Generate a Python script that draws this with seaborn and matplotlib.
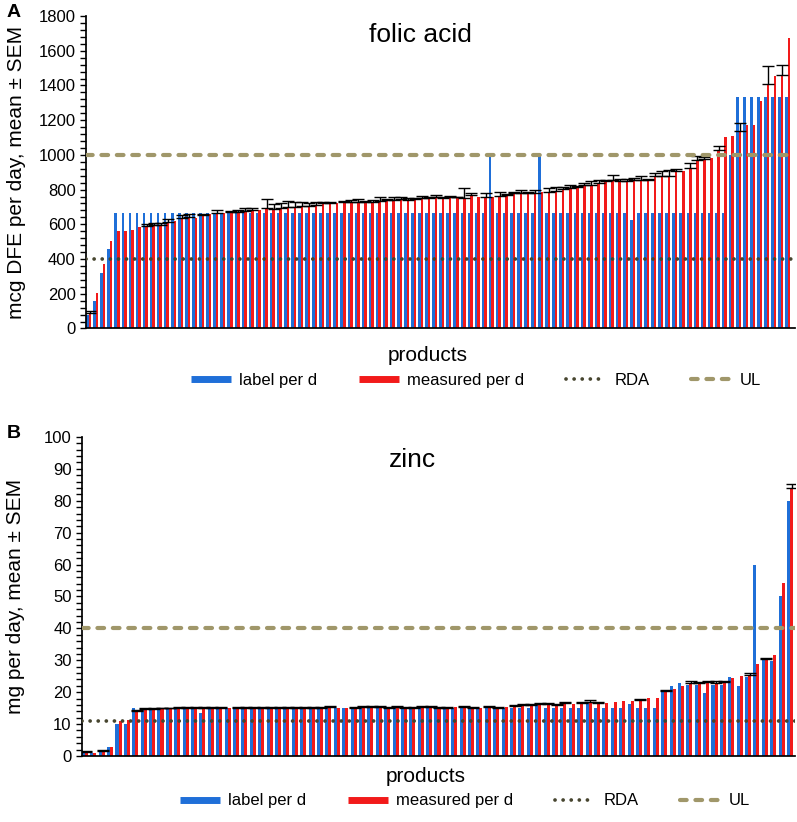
import numpy as np
import pandas as pd
import matplotlib
matplotlib.use('Agg')
import matplotlib.pyplot as plt
from matplotlib.lines import Line2D
from matplotlib.ticker import MultipleLocator
import seaborn as sns

sns.set_theme(style='ticks')
plt.rcParams['font.family'] = ['Liberation Sans', 'DejaVu Sans']
for k in ['text.color', 'axes.labelcolor', 'xtick.color', 'ytick.color', 'axes.edgecolor']:
    plt.rcParams[k] = 'black'

BLUE = '#1f6fd8'
RED = '#f21a1a'
RDA_C = '#47452f'
UL_C = '#a0976a'
SERIES = ['label per d', 'measured per d']

# ---- folic acid, mcg DFE per day (products sorted by measured value) ----
folic_label = ([80, 160, 320, 460] + [667] * 53 + [1000] + [667] * 6 + [1000]
               + [667] * 12 + [626] + [667] * 13 + [1000] + [1333] * 8)
folic_measured = [88, 207, 370, 505, 563, 563, 568, 586, 591, 595,
                  595, 616, 620, 636, 645, 636, 655, 659, 665, 665,
                  669, 671, 678, 681, 684, 693, 690, 692, 697, 697,
                  704, 705, 713, 722, 722, 722, 726, 730, 731, 730,
                  731, 735, 738, 741, 745, 741, 745, 751, 751, 755,
                  751, 755, 755, 751, 770, 755, 760, 757, 765, 770,
                  780, 780, 780, 782, 784, 789, 793, 803, 809, 815,
                  828, 828, 838, 847, 857, 847, 847, 857, 857, 857,
                  876, 880, 880, 910, 905, 924, 968, 976, 982, 1030,
                  1101, 1111, 1136, 1170, 1172, 1310, 1411, 1457, 1461, 1675]
folic_sem = [10, 0, 0, 0, 0, 0, 0, 0, 10, 10,
             10, 15, 0, 20, 15, 0, 5, 0, 20, 0,
             10, 10, 15, 15, 0, 55, 25, 30, 35, 30,
             25, 18, 13, 8, 8, 0, 11, 8, 13, 6,
             8, 20, 10, 18, 10, 8, 9, 13, 9, 13,
             6, 9, 4, 58, 10, 0, 20, 0, 19, 6,
             6, 15, 9, 13, 0, 20, 22, 11, 16, 4,
             10, 19, 19, 9, 25, 16, 16, 9, 19, 4,
             19, 25, 35, 7, 0, 29, 23, 10, 0, 23,
             0, 0, 45, 0, 0, 0, 100, 0, 58, 0]
folic_rda, folic_ul = 400, 1000

# ---- zinc, mg per day ----
zinc_label = ([1.2, 1.0, 1.4, 2.7, 10, 10] + [15] * 8 + [13.5] + [15] * 39 + [16.7]
              + [15] * 5 + [17] + [15] * 4 + [16.3] + [15] * 3
              + [20, 21.8, 22.9, 22.3, 22.3, 19.9, 22.3, 22.3, 24.8, 21.8,
                 24.8, 60, 30, 29.7, 50, 80])
zinc_measured = [1.3, 0.9, 1.6, 2.9, 11.0, 11.3, 14.2, 14.8, 14.8, 15.0,
                 15.0, 15.1, 15.1, 15.1, 15.1, 15.1, 15.1, 14.9, 15.1, 15.1,
                 15.1, 15.1, 15.2, 15.2, 15.2, 15.2, 15.0, 15.0, 15.2, 15.5,
                 15.2, 15.0, 15.0, 15.4, 15.4, 15.4, 15.2, 15.4, 15.2, 15.2,
                 15.4, 15.4, 15.2, 15.2, 15.4, 15.4, 15.2, 15.2, 15.4, 15.2,
                 15.4, 15.8, 16.0, 16.0, 16.3, 16.2, 16.1, 16.5, 16.2, 16.7,
                 17.0, 16.7, 16.6, 16.8, 17.1, 17.3, 17.5, 18.1, 18.2, 20.3,
                 21.0, 21.8, 22.9, 22.9, 23.1, 22.9, 23.1, 24.3, 25.0, 25.5,
                 28.8, 30.3, 31.6, 54.2, 84.0]
zinc_sem = [0.4, 0, 0.4, 0, 0, 0, 0.3, 0.2, 0.2, 0.2,
            0.2, 0.3, 0.2, 0.3, 0.3, 0.3, 0.3, 0, 0.3, 0.2,
            0.2, 0.2, 0.2, 0.2, 0.2, 0.2, 0.3, 0.3, 0.3, 0.2,
            0, 0, 0.3, 0.2, 0.2, 0.2, 0.3, 0.2, 0.3, 0.3,
            0.2, 0.2, 0.3, 0.3, 0, 0.3, 0.3, 0, 0.3, 0.3,
            0, 0.3, 0.3, 0.3, 0.3, 0.3, 0.3, 0.3, 0, 0.3,
            0.5, 0.3, 0, 0, 0, 0, 0.5, 0, 0, 0.3,
            0, 0, 0.5, 0.3, 0.3, 0.5, 0.3, 0, 0, 0.5,
            0, 0.3, 0, 0, 1.3]
zinc_rda, zinc_ul = 11, 40

RDA_STYLE = dict(color=RDA_C, lw=2.7, linestyle=(0, (0.01, 2.15)), dash_capstyle='round')
UL_STYLE = dict(color=UL_C, lw=3.0, linestyle=(0, (1.6, 2.1)), dash_capstyle='round')


def panel(ax, label, measured, sem, rda, ul, ymax, major, minor, xlim,
          ylabel, title, title_xy, xlab_y, leg_xy, ylab_x):
    n = len(label)
    df = pd.DataFrame({'product': np.tile(np.arange(n), 2),
                       'value': np.r_[label, measured],
                       'series': [SERIES[0]] * n + [SERIES[1]] * n})
    sns.barplot(data=df, x='product', y='value', hue='series', palette=[BLUE, RED],
                width=0.72, saturation=1, errorbar=None, linewidth=0,
                legend=False, ax=ax)
    red = ax.containers[1]
    xs = np.array([b.get_x() + b.get_width() / 2 for b in red])
    sem = np.asarray(sem, float)
    meas = np.asarray(measured, float)
    m = sem > 0
    ax.errorbar(xs[m], meas[m], yerr=[np.zeros(m.sum()), sem[m]], fmt='none',
                ecolor='black', elinewidth=1, capsize=4.5, capthick=1, zorder=2)
    ax.axhline(rda, zorder=3, **RDA_STYLE)
    ax.axhline(ul, zorder=3, **UL_STYLE)

    ax.set_xlim(*xlim)
    ax.set_ylim(0, ymax)
    ax.set_xticks([])
    ax.set_xlabel('')
    ax.set_ylabel(ylabel, fontsize=15)
    ax.yaxis.set_label_coords(ylab_x, 0.5)
    ax.yaxis.set_major_locator(MultipleLocator(major))
    ax.yaxis.set_minor_locator(MultipleLocator(minor))
    ax.tick_params(axis='y', which='both', direction='out', length=4, width=1,
                   labelsize=12)
    sns.despine(ax=ax)
    ax.text(title_xy[0], title_xy[1], title, transform=ax.transAxes,
            ha='center', va='center', fontsize=19)
    ax.text(0.482, xlab_y, 'products', transform=ax.transAxes,
            ha='center', va='center', fontsize=15)

    handles = [Line2D([], [], color=BLUE, lw=5, solid_capstyle='butt'),
               Line2D([], [], color=RED, lw=5, solid_capstyle='butt'),
               Line2D([], [], **RDA_STYLE),
               Line2D([], [], **UL_STYLE)]
    ax.legend(handles, SERIES + ['RDA', 'UL'], loc='center', bbox_to_anchor=leg_xy,
              ncol=4, frameon=False, fontsize=12, handlelength=2.4,
              handletextpad=0.5, columnspacing=2.5)


fig = plt.figure(figsize=(7.97, 8.22), dpi=100)
axA = fig.add_axes([0.108, 0.6004, 0.8895, 0.3801])
axB = fig.add_axes([0.103, 0.0803, 0.8946, 0.3881])

panel(axA, folic_label, folic_measured, folic_sem, folic_rda, folic_ul,
      1800, 200, 40, (-0.38, 100.0), 'mcg DFE per day, mean ± SEM', 'folic acid',
      (0.471, 0.939), -0.085, (0.55, -0.165), -0.085)
panel(axB, zinc_label, zinc_measured, zinc_sem, zinc_rda, zinc_ul,
      100, 10, 2, (-0.34, 84.6), 'mg per day, mean ± SEM', 'zinc',
      (0.463, 0.928), -0.063, (0.537, -0.141), -0.08)

fig.text(0.0176, 0.985, 'A', fontsize=14, fontweight='bold', ha='center', va='center')
fig.text(0.0176, 0.4732, 'B', fontsize=14, fontweight='bold', ha='center', va='center')

fig.savefig('out.png', dpi=100)
